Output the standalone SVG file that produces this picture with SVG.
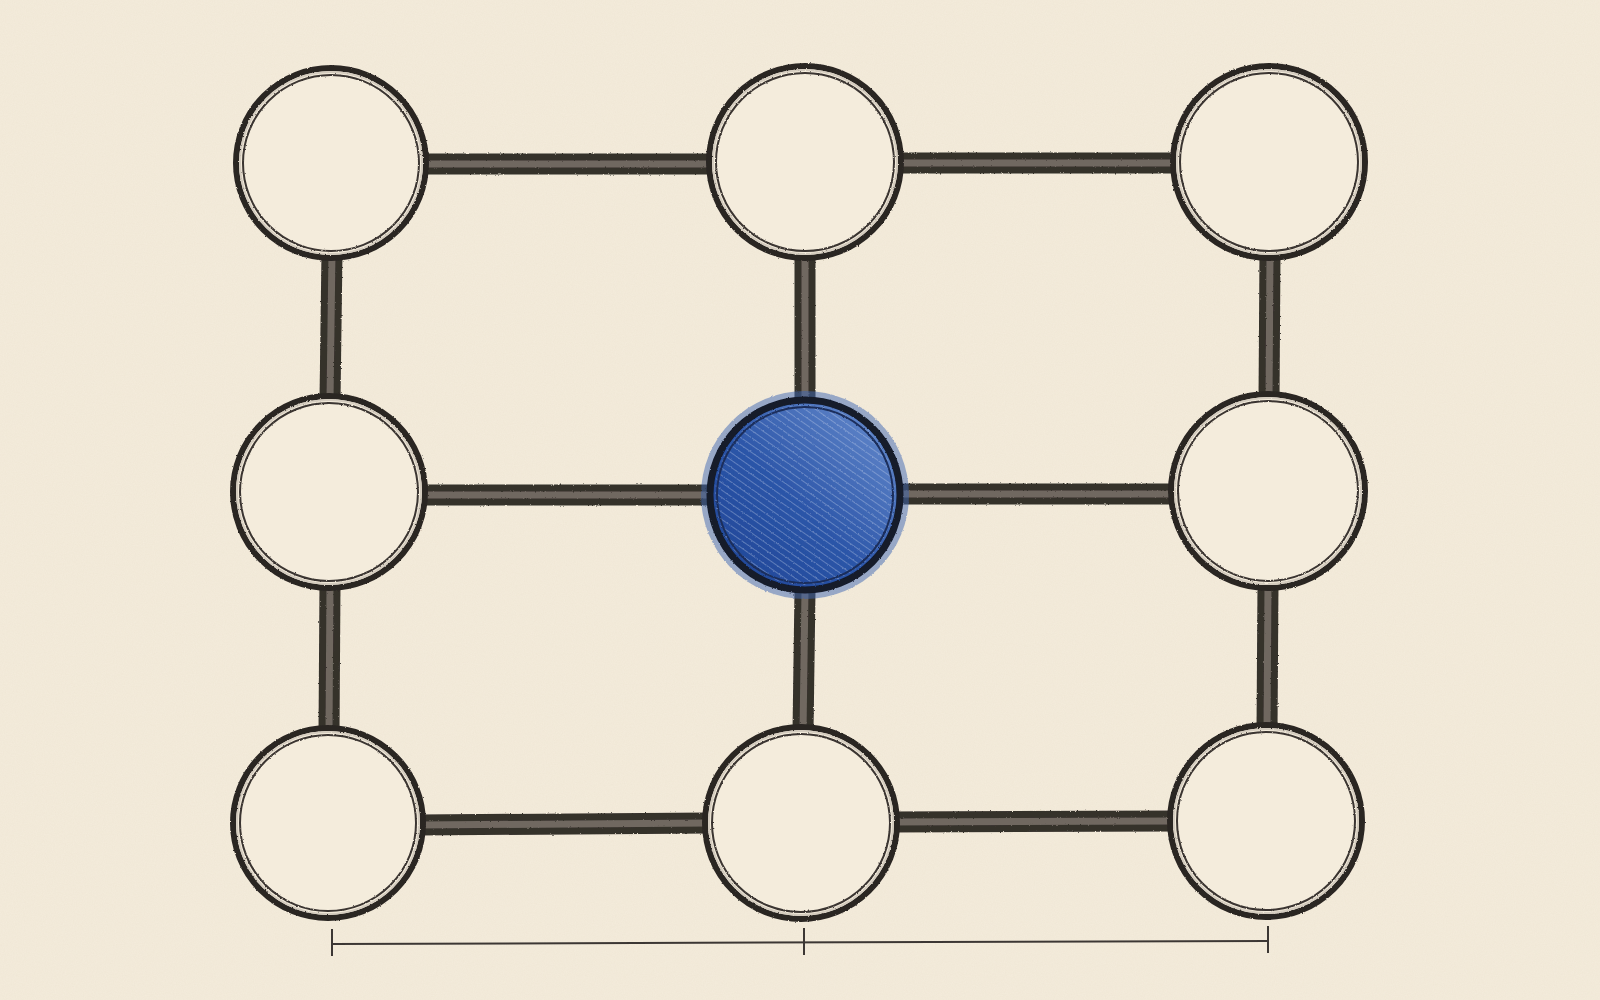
<svg xmlns="http://www.w3.org/2000/svg" width="1600" height="1000" viewBox="0 0 1600 1000">
<defs>
<filter id="paper" x="0" y="0" width="100%" height="100%">
<feTurbulence type="fractalNoise" baseFrequency="0.9" numOctaves="3" seed="4" result="n"/>
<feColorMatrix in="n" type="matrix" values="0 0 0 0 0.80  0 0 0 0 0.72  0 0 0 0 0.58  0 0 0 0.35 0" result="c"/>
<feComposite in="c" in2="SourceGraphic" operator="in"/>
</filter>
<filter id="pencil" x="-5%" y="-5%" width="110%" height="110%">
<feTurbulence type="fractalNoise" baseFrequency="0.6" numOctaves="2" seed="7" result="t"/>
<feDisplacementMap in="SourceGraphic" in2="t" scale="2.2" xChannelSelector="R" yChannelSelector="G"/>
</filter>
<linearGradient id="blueg" x1="0" y1="1" x2="1" y2="0">
<stop offset="0" stop-color="#1f4494"/>
<stop offset="0.45" stop-color="#2b55a8"/>
<stop offset="1" stop-color="#6e92d2"/>
</linearGradient>
<pattern id="hatch" width="6" height="6" patternUnits="userSpaceOnUse" patternTransform="rotate(-55)">
<line x1="0" y1="0" x2="0" y2="6" stroke="#d3def2" stroke-width="1.3" stroke-opacity="0.5"/>
</pattern>
<style>
.bar{stroke:#35302b;stroke-width:21;stroke-linecap:butt;fill:none}
.barIn{stroke:#a0978d;stroke-width:7;stroke-opacity:0.55;fill:none}
.ringO{fill:#f4ecdc;stroke:#2a2522;stroke-width:6}
.ringI{fill:none;stroke:#3a3430;stroke-width:2}
.ringG{fill:none;stroke:#d4ccbf;stroke-width:2}
.scale{stroke:#3c3734;stroke-width:2;fill:none}
</style>
</defs>
<rect width="1600" height="1000" fill="#f4ecdc"/>
<rect width="1600" height="1000" fill="#f4ecdc" filter="url(#paper)"/>
<g id="connectors" filter="url(#pencil)">
<line class="bar" x1="420" y1="164" x2="715" y2="164"/>
<line class="barIn" x1="420" y1="164" x2="715" y2="164"/>
<line class="bar" x1="895" y1="163" x2="1180" y2="163"/>
<line class="barIn" x1="895" y1="163" x2="1180" y2="163"/>
<line class="bar" x1="420" y1="495" x2="715" y2="495"/>
<line class="barIn" x1="420" y1="495" x2="715" y2="495"/>
<line class="bar" x1="895" y1="494" x2="1180" y2="494"/>
<line class="barIn" x1="895" y1="494" x2="1180" y2="494"/>
<line class="bar" x1="418" y1="825" x2="710" y2="823"/>
<line class="barIn" x1="418" y1="825" x2="710" y2="823"/>
<line class="bar" x1="890" y1="822" x2="1178" y2="821"/>
<line class="barIn" x1="890" y1="822" x2="1178" y2="821"/>
<line class="bar" x1="332" y1="252" x2="330" y2="400"/>
<line class="barIn" x1="332" y1="252" x2="330" y2="400"/>
<line class="bar" x1="330" y1="583" x2="329" y2="732"/>
<line class="barIn" x1="330" y1="583" x2="329" y2="732"/>
<line class="bar" x1="805" y1="252" x2="805" y2="400"/>
<line class="barIn" x1="805" y1="252" x2="805" y2="400"/>
<line class="bar" x1="805" y1="590" x2="803" y2="732"/>
<line class="barIn" x1="805" y1="590" x2="803" y2="732"/>
<line class="bar" x1="1270" y1="252" x2="1269" y2="400"/>
<line class="barIn" x1="1270" y1="252" x2="1269" y2="400"/>
<line class="bar" x1="1268" y1="583" x2="1267" y2="730"/>
<line class="barIn" x1="1268" y1="583" x2="1267" y2="730"/>
</g>
<g filter="url(#pencil)">
<g id="n11"><circle class="ringO" cx="331" cy="163" r="95"/><circle class="ringG" cx="331" cy="163" r="91"/><circle class="ringI" cx="331" cy="163" r="88"/></g>
<g id="n12"><circle class="ringO" cx="805" cy="162" r="96"/><circle class="ringG" cx="805" cy="162" r="92"/><circle class="ringI" cx="805" cy="162" r="89"/></g>
<g id="n13"><circle class="ringO" cx="1269" cy="162" r="96"/><circle class="ringG" cx="1269" cy="162" r="92"/><circle class="ringI" cx="1269" cy="162" r="89"/></g>
<g id="n21"><circle class="ringO" cx="329" cy="492" r="96"/><circle class="ringG" cx="329" cy="492" r="92"/><circle class="ringI" cx="329" cy="492" r="89"/></g>
<g id="n22">
<circle cx="805" cy="495" r="104" fill="#3d66b4" fill-opacity="0.5"/>
<circle cx="805" cy="495" r="95" fill="url(#blueg)" stroke="#121a2c" stroke-width="7"/>
<circle cx="805" cy="495" r="90" fill="url(#hatch)"/>
<circle cx="805" cy="495" r="88" fill="none" stroke="#1c2f5c" stroke-width="2"/>
</g>
<g id="n23"><circle class="ringO" cx="1268" cy="491" r="97"/><circle class="ringG" cx="1268" cy="491" r="93"/><circle class="ringI" cx="1268" cy="491" r="90"/></g>
<g id="n31"><circle class="ringO" cx="328" cy="823" r="95"/><circle class="ringG" cx="328" cy="823" r="91"/><circle class="ringI" cx="328" cy="823" r="88"/></g>
<g id="n32"><circle class="ringO" cx="801" cy="823" r="96"/><circle class="ringG" cx="801" cy="823" r="92"/><circle class="ringI" cx="801" cy="823" r="89"/></g>
<g id="n33"><circle class="ringO" cx="1266" cy="821" r="96"/><circle class="ringG" cx="1266" cy="821" r="92"/><circle class="ringI" cx="1266" cy="821" r="89"/></g>
</g>
<g id="scalebar">
<line class="scale" x1="332" y1="944" x2="1268" y2="941"/>
<line class="scale" x1="332" y1="929" x2="332" y2="956"/>
<line class="scale" x1="804" y1="928" x2="804" y2="955"/>
<line class="scale" x1="1268" y1="926" x2="1268" y2="953"/>
</g>
</svg>
